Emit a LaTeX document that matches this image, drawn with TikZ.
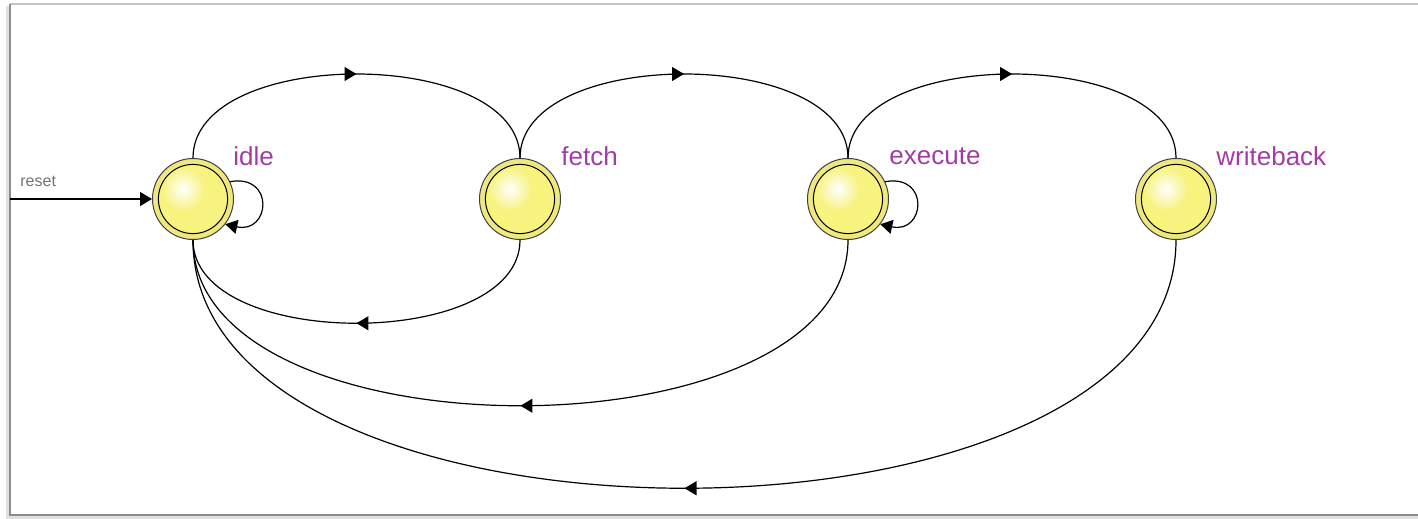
\documentclass[tikz,border=0pt]{standalone}
\usepackage{fontspec}
\setmainfont{Liberation Sans}
\usetikzlibrary{arrows.meta,decorations.markings}
\definecolor{ringy}{HTML}{EFE87E}
\definecolor{innery}{HTML}{F8F27E}
\definecolor{lblpurple}{HTML}{A23BA6}
\definecolor{framegray}{HTML}{C4C4C4}
\tikzset{
  state/.style={circle, minimum size=40.5pt, inner sep=0pt, fill=ringy, draw=black!75, line width=0.5pt,
    path picture={
      \fill[innery] (path picture bounding box.center) circle (17.3pt);
      \shade[inner color=white, outer color=innery] ([shift={(-5pt,5pt)}]path picture bounding box.center) circle (11pt);
      \draw[black, line width=0.5pt] (path picture bounding box.center) circle (17.3pt);
    }},
  lbl/.style={anchor=west, text=lblpurple, font=\fontsize{13}{15}\selectfont, inner sep=0pt},
  edge/.style={draw=black, line width=0.6pt},
  tip/.style={-{Triangle[length=6pt,width=7pt]}},
  midarrow/.style={postaction={decorate}, decoration={markings, mark=at position 0.5 with {\arrow{Triangle[length=6pt,width=7pt]}}}}
}
\begin{document}
\begin{tikzpicture}[x=0.5pt, y=-0.5pt]
\useasboundingbox (0,0) rectangle (1418,519);
% frame
\draw[framegray, line width=1pt] (10,4) -- (1418,4);
\draw[black!45, line width=1.2pt] (10,4) -- (10,515) -- (1418,515);
\draw[black!12, line width=1.5pt] (7,6) -- (7,517.5) -- (1418,517.5);

\node[state] (idle) at (193,199) {};
\node[state] (fetch) at (520,199) {};
\node[state] (execute) at (848,199) {};
\node[state] (writeback) at (1176,199) {};

\node[lbl] (lidle) at (233,156) {idle};
\node[lbl] (lfetch) at (561,156) {fetch};
\node[lbl] (lexec) at (889,156) {execute};
\node[lbl] (lwb) at (1216,156) {writeback};

% reset
\coordinate (rs) at (10,199);
\node[anchor=west, text=black!55, font=\fontsize{8}{9}\selectfont, inner sep=0pt] (lreset) at (20,181) {reset};
\draw[edge, tip] (rs) -- (idle.west);

% top arcs
\draw[edge, midarrow] (idle.north) .. controls +(0,-112) and +(0,-112) .. (fetch.north);
\draw[edge, midarrow] (fetch.north) .. controls +(0,-112) and +(0,-112) .. (execute.north);
\draw[edge, midarrow] (execute.north) .. controls +(0,-112) and +(0,-112) .. (writeback.north);

% bottom arcs
\draw[edge, midarrow] (fetch.south) .. controls +(0,111) and +(0,111) .. (idle.south);
\draw[edge, midarrow] (execute.south) .. controls +(0,221) and +(0,221) .. (idle.south);
\draw[edge, midarrow] (writeback.south) .. controls +(0,331) and +(0,331) .. (idle.south);

% self loops
\draw[edge, tip] (idle.25) .. controls +(45,-8) and +(45,10) .. (idle.-38);
\draw[edge, tip] (execute.25) .. controls +(45,-8) and +(45,10) .. (execute.-38);
\end{tikzpicture}
\end{document}
